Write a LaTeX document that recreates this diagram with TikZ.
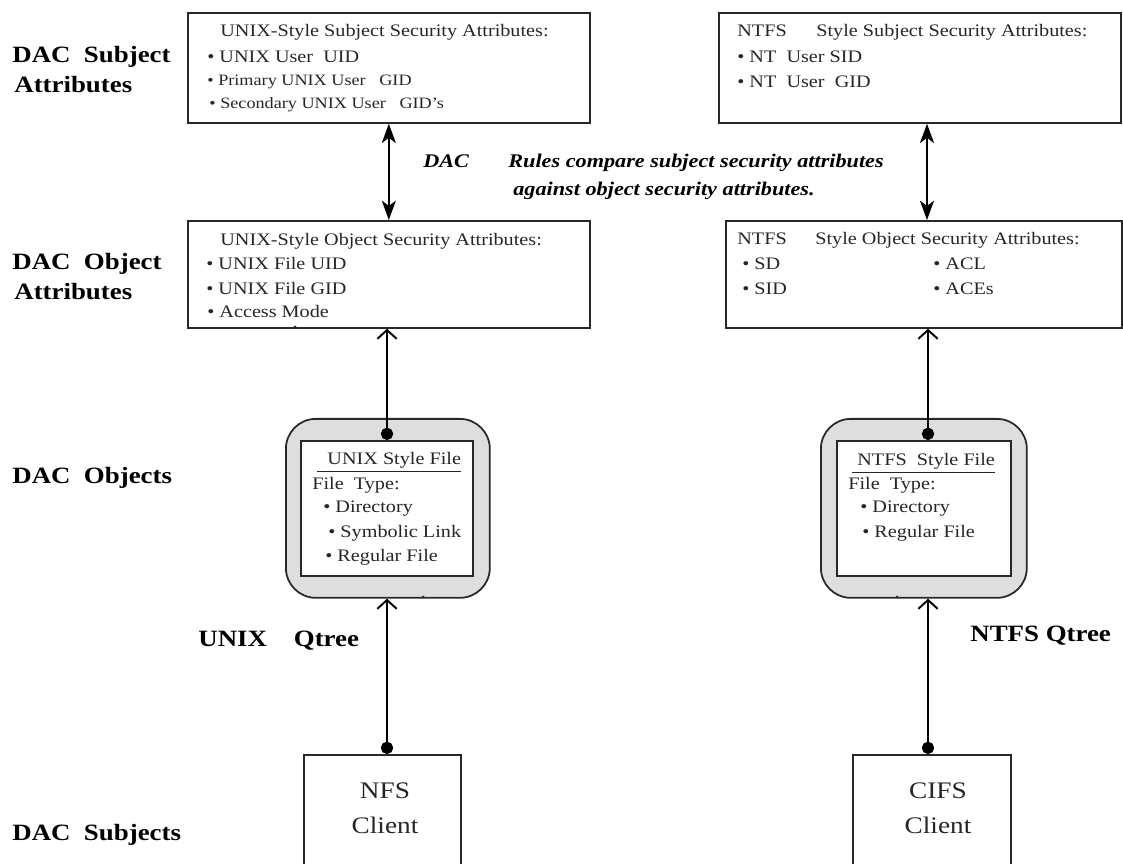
\documentclass[tikz,border=0pt]{standalone}
\usepackage{fontspec}
\setmainfont{Liberation Serif}[FakeStretch=1.15]
\usetikzlibrary{arrows.meta,calc}
\definecolor{cline}{RGB}{40,40,40}
\definecolor{cshade}{RGB}{222,222,222}

\begin{document}
\begin{tikzpicture}[
  x=0.02cm, y=-0.02cm,
  box/.style={draw=cline,line width=1pt,anchor=north west,inner sep=0pt},
  filebox/.style={box,fill=cshade,rounded corners=0.6cm},
  ln/.style={anchor=base west,inner sep=0pt,text=black!85,font=\fontsize{10}{12}\selectfont},
  lnsm/.style={ln,font=\fontsize{9}{11}\selectfont},
  sidelbl/.style={anchor=base west,inner sep=0pt,font=\bfseries\fontsize{13.3}{16}\selectfont},
  rulestxt/.style={anchor=base west,inner sep=0pt,font=\bfseries\itshape\fontsize{11}{13}\selectfont},
  dacarrow/.style={{Stealth[length=11pt,width=8pt,inset=3pt]}-{Stealth[length=11pt,width=8pt,inset=3pt]},line width=1.1pt},
  feed/.style={{Circle[length=7pt]}-{Straight Barb[length=5pt,width=11pt]},line width=1.1pt}
]
  \clip (0,0) rectangle (1123,864);

  % side labels
  \node[sidelbl] (lsub1) at (12,63) {DAC\ \ Subject};
  \node[sidelbl] (lsub2) at (14,93) {Attributes};
  \node[sidelbl] (lobj1) at (12,270) {DAC\ \ Object};
  \node[sidelbl] (lobj2) at (14,300) {Attributes};
  \node[sidelbl] (lobjs) at (12,484) {DAC\ \ Objects};
  \node[sidelbl] (lsubs) at (12,840) {DAC\ \ Subjects};
  \node[sidelbl] (uqt) at (198,647) {UNIX\ \ \ \ Qtree};
  \node[sidelbl] (nqt) at (970,642) {NTFS Qtree};

  % subject attributes
  \node[box,minimum width=8.04cm,minimum height=2.2cm] (usub) at (187,12) {};
  \node[ln] (usub1) at (220,37) {UNIX-Style Subject Security Attributes:};
  \node[ln] (usub2) at (207,63) {\textbullet\ UNIX User\ \ UID};
  \node[lnsm] (usub3) at (207,86) {\textbullet\ Primary UNIX User\ \ \ GID};
  \node[lnsm] (usub4) at (209,109) {\textbullet\ Secondary UNIX User\ \ \ GID's};

  \node[box,minimum width=8.04cm,minimum height=2.2cm] (nsub) at (718,12) {};
  \node[ln] (nsub0) at (737,37) {NTFS};
  \node[ln] (nsub1) at (816,37) {Style Subject Security Attributes:};
  \node[ln] (nsub2) at (737,63) {\textbullet\ NT\ \ User SID};
  \node[ln] (nsub3) at (737,88) {\textbullet\ NT\ \ User\ \ GID};

  % object attributes
  \node[box,minimum width=8.04cm,minimum height=2.14cm] (uobj) at (187,220) {};
  \node[ln] (uobj1) at (220,246) {UNIX-Style Object Security Attributes:};
  \node[ln] (uobj2) at (206,270) {\textbullet\ UNIX File UID};
  \node[ln] (uobj3) at (206,295) {\textbullet\ UNIX File GID};
  \node[ln] (uobj4) at (207,318) {\textbullet\ Access Mode};

  \node[box,minimum width=7.92cm,minimum height=2.14cm] (nobj) at (725,220) {};
  \node[ln] (nobj0) at (737,245) {NTFS};
  \node[ln] (nobj1) at (815,245) {Style Object Security Attributes:};
  \node[ln] (nobj2) at (742,270) {\textbullet\ SD};
  \node[ln] (nobj3) at (742,295) {\textbullet\ SID};
  \node[ln] (nobj4) at (933,270) {\textbullet\ ACL};
  \node[ln] (nobj5) at (933,295) {\textbullet\ ACEs};

  % DAC rules
  \node[rulestxt] (rdac) at (423,168) {DAC};
  \node[rulestxt] (rl1) at (508,168) {Rules compare subject security attributes};
  \node[rulestxt] (rl2) at (513,196) {against object security attributes.};

  % file objects
  \node[filebox,minimum width=4.08cm,minimum height=3.58cm] (ufile) at (285,418) {};
  \node[box,fill=white,line width=1.2pt,minimum width=3.44cm,minimum height=2.7cm] (ufilein) at (300,440) {};
  \node[ln] (uf1) at (317,465) {\underline{\ \ UNIX Style File}};
  \node[ln] (uf2) at (312,490) {File\ \ Type:};
  \node[ln] (uf3) at (323,513) {\textbullet\ Directory};
  \node[ln] (uf4) at (328,538) {\textbullet\ Symbolic Link};
  \node[ln] (uf5) at (325,562) {\textbullet\ Regular File};

  \node[filebox,minimum width=4.12cm,minimum height=3.58cm] (nfile) at (820,418) {};
  \node[box,fill=white,line width=1.2pt,minimum width=3.48cm,minimum height=2.7cm] (nfilein) at (836,440) {};
  \node[ln] (nf1) at (852,466) {\underline{\ NTFS\ \ Style File}};
  \node[ln] (nf2) at (848,490) {File\ \ Type:};
  \node[ln] (nf3) at (860,513) {\textbullet\ Directory};
  \node[ln] (nf4) at (862,538) {\textbullet\ Regular File};

  % clients
  \node[box,minimum width=3.14cm,minimum height=2.92cm] (ucli) at (303,754) {};
  \node[ln,anchor=base,font=\fontsize{13.5}{16}\selectfont] (ucli1) at (385,798) {NFS};
  \node[ln,anchor=base,font=\fontsize{13.5}{16}\selectfont] (ucli2) at (385,833) {Client};
  \node[box,minimum width=3.16cm,minimum height=2.92cm] (ncli) at (852,754) {};
  \node[ln,anchor=base,font=\fontsize{13.5}{16}\selectfont] (ncli1) at (938,798) {CIFS};
  \node[ln,anchor=base,font=\fontsize{13.5}{16}\selectfont] (ncli2) at (938,833) {Client};

  % connectors
  \coordinate (nx) at (927,0);
  \coordinate (nfx) at (928,0);
  \draw[dacarrow] (usub.south) -- (uobj.north);
  \draw[dacarrow] (nx |- nsub.south) -- (nx |- nobj.north);
  \draw[feed] (ufilein.north -| 387,0) -- (uobj.south -| 387,0);
  \draw[feed] (nfx |- nfilein.north) -- (nfx |- nobj.south);
  \draw[feed] (ucli.north -| 387,0) -- (ufile.south -| 387,0);
  \draw[feed] (nfx |- ncli.north) -- (nfx |- nfile.south);

  % stray marks
  \fill[cline] (295,327) circle (1.5);
  \fill[cline] (423,597) circle (1.5);
  \fill[cline] (897,597) circle (1.5);
\end{tikzpicture}
\end{document}
